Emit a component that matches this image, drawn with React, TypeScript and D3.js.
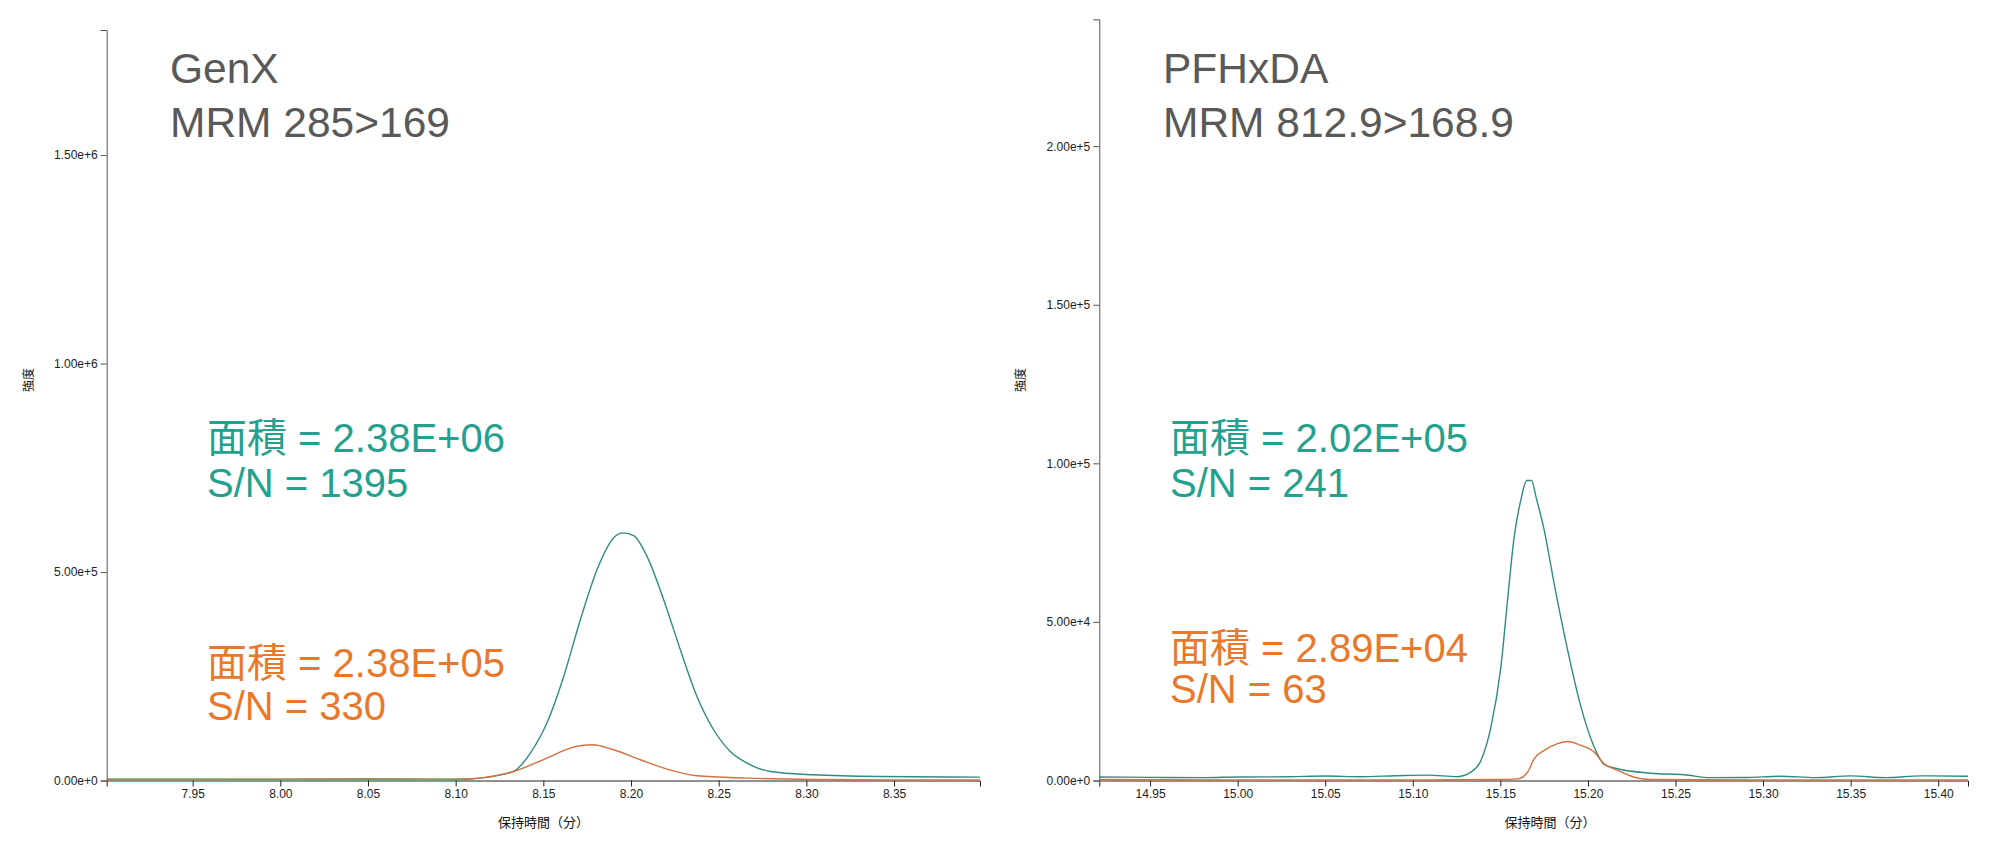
import { useEffect, useRef } from "react";
import * as d3 from "d3";

// GenX (left panel)
const genxTime = [7.901, 7.95, 8.0, 8.05, 8.1, 8.114, 8.125, 8.133, 8.1426, 8.152, 8.1616, 8.1711, 8.1806, 8.19, 8.1954, 8.2015, 8.2091, 8.2186, 8.2281, 8.2376, 8.2471, 8.2566, 8.2661, 8.2794, 8.304, 8.342, 8.399];
const genxQuan = [3000, 3000, 3200, 3500, 3000, 5800, 13000, 21600, 65800, 137800, 249600, 385700, 505700, 581800, 593800, 587300, 537600, 433700, 313700, 201600, 121700, 69600, 41800, 21600, 13700, 9600, 8200];
const genxQualTime = [7.901, 7.95, 8.0, 8.05, 8.1, 8.114, 8.133, 8.152, 8.1654, 8.178, 8.19, 8.2053, 8.2205, 8.2376, 8.266, 8.304, 8.35, 8.399];
const genxQual = [2500, 2500, 2800, 3000, 2500, 5800, 21600, 53800, 77800, 85700, 73700, 49700, 27400, 11300, 5800, 2500, 1500, 1500];

// PFHxDA (right panel)
const pfhxdaTime = [14.921, 14.95, 14.98, 15.0, 15.03, 15.05, 15.07, 15.09, 15.1084, 15.1255, 15.1331, 15.1389, 15.1446, 15.1503, 15.1541, 15.1579, 15.1617, 15.1651, 15.1678, 15.1703, 15.175, 15.1807, 15.1884, 15.196, 15.2036, 15.2093, 15.217, 15.236, 15.255, 15.27, 15.29, 15.31, 15.33, 15.35, 15.37, 15.39, 15.417];
const pfhxdaQuan = [1100, 1000, 900, 1100, 1200, 1400, 1200, 1500, 1700, 1200, 2620, 6300, 16800, 35800, 56900, 76900, 88500, 94600, 94600, 89500, 79000, 62100, 41100, 23200, 10500, 5050, 3700, 2300, 1800, 900, 950, 1360, 900, 1470, 900, 1470, 1360];
const pfhxdaQualTime = [14.921, 15.0, 15.1, 15.15, 15.1598, 15.1655, 15.1693, 15.175, 15.1827, 15.1884, 15.196, 15.2036, 15.2093, 15.217, 15.2265, 15.236, 15.3, 15.417];
const pfhxdaQual = [300, 200, 200, 300, 500, 2600, 6850, 9500, 11600, 12300, 11060, 8950, 5260, 3160, 1040, 300, 200, 200];

const genxXTicks = [7.95, 8.0, 8.05, 8.1, 8.15, 8.2, 8.25, 8.3, 8.35];
const genxYTicks = [0, 5e5, 1e6, 1.5e6];
const pfhxdaXTicks = [14.95, 15.0, 15.05, 15.1, 15.15, 15.2, 15.25, 15.3, 15.35, 15.4];
const pfhxdaYTicks = [0, 5e4, 1e5, 1.5e5, 2e5];

const TEAL_LINE = "#2f8c80";
const ORANGE_LINE = "#d5703f";
const TEAL_TEXT = "#23a08e";
const ORANGE_TEXT = "#e8792c";
const LATIN = "'Liberation Sans', Arial, 'Noto Sans CJK JP', sans-serif";

interface PanelProps {
  x0: number;
  x1: number;
  yTop: number;
  xDomain: [number, number];
  yMax: number;
  xTicks: number[];
  yTicks: number[];
  quanTime: number[];
  quan: number[];
  qualTime: number[];
  qual: number[];
  title: string[];
  titleX: number;
  annX: number;
  quanText: string[];
  qualText: string[];
  qualY: number[];
  xLabelX: number;
}

function Panel(p: PanelProps) {
  const ref = useRef<SVGGElement | null>(null);

  useEffect(() => {
    const g = d3.select(ref.current);
    g.selectAll("*").remove();
    const yBottom = 780.5;

    const x = d3.scaleLinear().domain(p.xDomain).range([p.x0, p.x1]);
    const y = d3.scaleLinear().domain([0, p.yMax]).range([yBottom, p.yTop]);

    const xAxis = g
      .append("g")
      .attr("transform", `translate(0,${yBottom})`)
      .call(d3.axisBottom(x).tickValues(p.xTicks).tickFormat(d3.format(".2f")));
    xAxis.selectAll("text").attr("font-size", 12).attr("font-family", LATIN).attr("fill", "#222");
    xAxis.selectAll("path,line").attr("stroke", "#222");

    const yAxis = g
      .append("g")
      .attr("transform", `translate(${p.x0},0)`)
      .call(d3.axisLeft(y).tickValues(p.yTicks).tickFormat(d3.format(".2e")));
    yAxis.selectAll("text").attr("font-size", 12).attr("font-family", LATIN).attr("fill", "#222");
    yAxis.selectAll("path,line").attr("stroke", "#555");

    const line = d3
      .line<[number, number]>()
      .x((d) => x(d[0]))
      .y((d) => y(d[1]))
      .curve(d3.curveMonotoneX);

    g.append("path")
      .datum(d3.zip(p.quanTime, p.quan) as [number, number][])
      .attr("fill", "none")
      .attr("stroke", TEAL_LINE)
      .attr("stroke-width", 1.4)
      .attr("d", line);

    g.append("path")
      .datum(d3.zip(p.qualTime, p.qual) as [number, number][])
      .attr("fill", "none")
      .attr("stroke", ORANGE_LINE)
      .attr("stroke-width", 1.4)
      .attr("d", line);

    g.append("text")
      .attr("x", p.xLabelX)
      .attr("y", 827)
      .attr("text-anchor", "middle")
      .attr("font-size", 13)
      .attr("font-family", "'Noto Sans CJK JP', sans-serif")
      .attr("fill", "#111")
      .text("保持時間（分）");

    g.append("text")
      .attr("transform", `translate(${p.x0 - 74},380) rotate(-90)`)
      .attr("text-anchor", "middle")
      .attr("font-size", 12)
      .attr("font-family", "'Noto Sans CJK JP', sans-serif")
      .attr("fill", "#111")
      .text("強度");

    p.title.forEach((t, i) => {
      g.append("text")
        .attr("x", p.titleX)
        .attr("y", 83 + i * 54)
        .attr("font-size", 42.5)
        .attr("font-family", LATIN)
        .attr("fill", "#595959")
        .text(t);
    });

    p.quanText.forEach((t, i) => {
      g.append("text")
        .attr("x", p.annX)
        .attr("y", 452 + i * 45)
        .attr("font-size", 40)
        .attr("font-family", LATIN)
        .attr("fill", TEAL_TEXT)
        .text(t);
    });

    p.qualText.forEach((t, i) => {
      g.append("text")
        .attr("x", p.annX)
        .attr("y", p.qualY[i])
        .attr("font-size", 40)
        .attr("font-family", LATIN)
        .attr("fill", ORANGE_TEXT)
        .text(t);
    });

    return () => {
      g.selectAll("*").remove();
    };
  }, [p]);

  return <g ref={ref} />;
}

export default function App() {
  return (
    <svg
      width={2000}
      height={861}
      style={{ position: "absolute", left: 0, top: 0, background: "#fff" }}
    >
      <rect width={2000} height={861} fill="#fff" />
      <Panel
        x0={106.7}
        x1={980}
        yTop={30}
        xDomain={[7.901, 8.399]}
        yMax={1.8e6}
        xTicks={genxXTicks}
        yTicks={genxYTicks}
        quanTime={genxTime}
        quan={genxQuan}
        qualTime={genxQualTime}
        qual={genxQual}
        title={["GenX", "MRM 285>169"]}
        titleX={170}
        annX={207}
        quanText={["面積 = 2.38E+06", "S/N = 1395"]}
        qualText={["面積 = 2.38E+05", "S/N = 330"]}
        qualY={[677, 720]}
        xLabelX={543.5}
      />
      <Panel
        x0={1099.3}
        x1={1968}
        yTop={19.3}
        xDomain={[14.921, 15.417]}
        yMax={2.4e5}
        xTicks={pfhxdaXTicks}
        yTicks={pfhxdaYTicks}
        quanTime={pfhxdaTime}
        quan={pfhxdaQuan}
        qualTime={pfhxdaQualTime}
        qual={pfhxdaQual}
        title={["PFHxDA", "MRM 812.9>168.9"]}
        titleX={1163}
        annX={1170}
        quanText={["面積 = 2.02E+05", "S/N = 241"]}
        qualText={["面積 = 2.89E+04", "S/N = 63"]}
        qualY={[662, 703]}
        xLabelX={1550}
      />
    </svg>
  );
}
